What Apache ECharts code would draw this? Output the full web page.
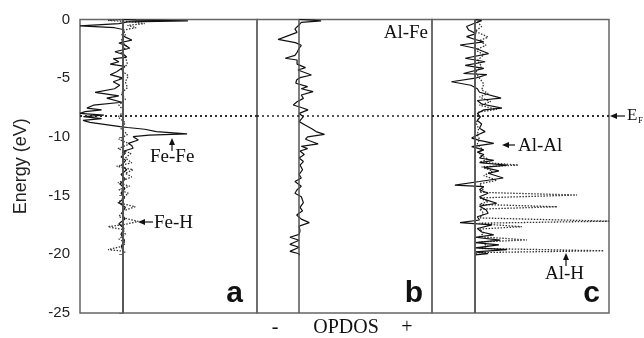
<!DOCTYPE html>
<html>
<head>
<meta charset="utf-8">
<script src="https://cdn.jsdelivr.net/npm/echarts@6/dist/echarts.min.js"></script>
<style>
  html, body { margin: 0; padding: 0; background: #fff; }
  #chart { width: 644px; height: 338px; }
</style>
</head>
<body>
<div id="chart"></div>
<script>
// Data: [energy (eV), OPDOS] pairs
const feFe = [[0,0],[-0.05,0.3],[-0.12,1.5],[-0.2,0.1],[-0.35,-0.1],[-0.55,-1.0],[-0.7,-0.2],[-0.85,0],[-1.1,0.02],[-1.3,-0.03],[-1.5,0.05],[-1.75,0.2],[-2.0,-0.1],[-2.2,0.05],[-2.45,0.15],[-2.75,-0.19],[-3.0,0.02],[-3.2,0.08],[-3.35,-0.23],[-3.6,-0.1],[-3.8,-0.3],[-4.0,0.04],[-4.2,-0.05],[-4.45,-0.15],[-4.7,-0.3],[-5.0,0],[-5.3,-0.23],[-5.6,-0.08],[-5.9,-0.2],[-6.2,-0.65],[-6.5,-0.1],[-6.7,-0.38],[-7.05,-0.03],[-7.3,-0.69],[-7.55,-0.84],[-7.7,-0.5],[-7.85,-0.88],[-8.0,-1.0],[-8.15,-0.45],[-8.28,-0.92],[-8.45,-0.5],[-8.6,-0.93],[-8.76,-0.77],[-8.95,-0.4],[-9.13,-0.07],[-9.2,0.1],[-9.35,0.5],[-9.55,0.77],[-9.75,1.48],[-9.85,0.6],[-9.98,0.23],[-10.26,0.35],[-10.55,0.12],[-10.75,0.2],[-10.97,0.23],[-11.2,0.02],[-11.4,0.05],[-11.7,-0.05],[-12.0,0.06],[-12.4,-0.04],[-12.8,0.08],[-13.2,-0.05],[-13.6,0.05],[-14.0,-0.08],[-14.4,0.04],[-14.8,-0.05],[-15.2,0.03],[-15.6,-0.1],[-16.0,0.05],[-16.5,-0.03],[-17.0,0.04],[-17.4,-0.1],[-17.8,0.02],[-18.3,-0.05],[-18.8,0.03],[-19.3,-0.04],[-19.8,0],[-20,0]];
const feH = [[0,0],[-0.08,-0.35],[-0.2,0.2],[-0.35,0.5],[-0.5,0.1],[-0.7,0.3],[-0.9,0],[-1.3,0.05],[-1.8,-0.05],[-2.3,0.08],[-2.8,-0.05],[-3.3,0.06],[-3.8,0.1],[-4.3,-0.05],[-4.8,0.12],[-5.3,0.05],[-5.8,0.1],[-6.3,-0.05],[-6.8,0.05],[-7.3,-0.1],[-7.8,0.02],[-8.3,-0.12],[-8.8,0.05],[-9.3,-0.05],[-9.8,0.1],[-10.2,-0.1],[-10.6,0.15],[-11.0,-0.12],[-11.4,0.18],[-11.8,0.05],[-12.2,0.2],[-12.5,-0.15],[-12.8,0.23],[-13.1,0.05],[-13.4,0.2],[-13.9,-0.12],[-14.2,0.15],[-14.5,-0.1],[-14.8,0.12],[-15.2,0],[-15.6,-0.12],[-15.95,0.28],[-16.3,0],[-16.8,-0.1],[-17.2,0.35],[-17.45,0.05],[-17.65,-0.35],[-17.9,0],[-18.3,0.05],[-18.7,-0.1],[-19.0,0.05],[-19.3,0],[-19.6,-0.35],[-19.75,0.05],[-20,0]];
const alFe = [[0,0],[-0.05,0.3],[-0.12,0.52],[-0.25,0.05],[-0.45,0],[-0.8,-0.1],[-1.1,-0.05],[-1.26,-0.05],[-1.5,-0.35],[-1.7,-0.5],[-1.97,-0.09],[-2.2,0.05],[-2.45,0],[-2.8,-0.05],[-3.05,-0.1],[-3.3,-0.33],[-3.45,-0.05],[-3.8,-0.05],[-4.1,0.15],[-4.3,-0.03],[-4.73,0.29],[-4.95,0.02],[-5.15,-0.06],[-5.43,-0.08],[-5.72,0.2],[-5.9,0.05],[-6.15,0.33],[-6.43,0.05],[-6.72,0.1],[-7.0,-0.05],[-7.28,-0.14],[-7.5,0.05],[-7.7,0.21],[-8.0,0],[-8.28,0.1],[-8.7,0],[-9.0,0.15],[-9.3,0.3],[-9.55,0.4],[-9.78,0.6],[-10.0,0.2],[-10.2,0.15],[-10.6,0.45],[-10.8,0.05],[-11.0,0.2],[-11.2,0.02],[-11.5,0.12],[-11.8,0],[-12.1,0.1],[-12.4,0.02],[-12.8,0.08],[-13.2,0],[-13.5,0.05],[-13.8,-0.1],[-14.2,0.05],[-14.5,-0.05],[-14.8,-0.1],[-15.1,0.05],[-15.6,0.1],[-16.0,0.02],[-16.3,0.08],[-16.65,-0.06],[-17.0,0.05],[-17.3,0.24],[-17.6,0],[-18.0,0.02],[-18.3,0],[-18.55,-0.22],[-18.8,0],[-19.15,-0.22],[-19.4,0],[-19.75,-0.22],[-19.95,0],[-20.1,0]];
const alAl = [[0,0],[-0.1,0.15],[-0.3,0],[-0.6,-0.2],[-0.9,-0.15],[-1.2,0.02],[-1.46,-0.2],[-1.7,0],[-1.9,0.2],[-2.17,-0.35],[-2.45,0],[-2.9,0.31],[-3.3,-0.23],[-3.6,0.23],[-3.9,-0.23],[-4.16,0.2],[-4.6,-0.27],[-4.7,0.27],[-5.0,0],[-5.3,-0.55],[-5.6,-0.1],[-5.9,0.05],[-6.2,0.1],[-6.7,0.6],[-6.9,0.05],[-7.2,0.15],[-7.55,0.62],[-7.7,0.2],[-8.0,0.05],[-8.3,0.12],[-8.6,0.05],[-8.9,0.15],[-9.27,0.1],[-9.55,0.23],[-9.84,0.05],[-10.1,-0.08],[-10.3,0.1],[-10.55,0.43],[-10.83,-0.08],[-11.1,0.2],[-11.3,0.05],[-11.5,0.2],[-11.8,0.1],[-12.0,0.43],[-12.2,0.1],[-12.4,0.74],[-12.6,0.2],[-12.9,0.55],[-13.1,0.3],[-13.5,0.65],[-13.8,0.1],[-14.1,-0.47],[-14.24,0.2],[-14.5,0.1],[-14.8,0.3],[-15.1,0.1],[-15.3,0.2],[-15.65,0.5],[-15.9,0.1],[-16.2,0.25],[-16.5,0.3],[-16.8,0.05],[-17.08,0.1],[-17.3,-0.35],[-17.5,0.39],[-17.8,0.05],[-18.1,0.15],[-18.35,0.43],[-18.55,0],[-18.8,0.58],[-19.0,0],[-19.2,0.55],[-19.45,0],[-19.6,0.74],[-19.8,0],[-19.95,0.3],[-20.05,0]];
const alH = [[0,0],[-0.2,0.05],[-0.6,0.15],[-1.0,0],[-1.5,0.3],[-1.8,0.1],[-2.2,0.25],[-2.6,0],[-3.0,0.2],[-3.5,0.05],[-4.0,0.15],[-4.5,0],[-5.0,0.1],[-5.5,0.2],[-6.0,0.15],[-6.3,0.3],[-6.6,0.1],[-7.0,0.36],[-7.3,0.1],[-7.65,0.5],[-7.9,0.05],[-8.3,0.1],[-8.8,0.02],[-9.3,0.08],[-9.8,0.05],[-10.2,0.1],[-10.6,0.05],[-11.0,0.15],[-11.5,0.1],[-11.9,0.3],[-12.15,0.1],[-12.4,1.0],[-12.55,0.15],[-12.9,0.4],[-13.3,0.2],[-13.7,0.5],[-14.0,0.1],[-14.4,0.2],[-14.72,0.1],[-14.95,2.36],[-15.2,0.1],[-15.5,0.3],[-15.75,0.1],[-15.95,1.9],[-16.15,0.1],[-16.5,0.2],[-16.9,0.1],[-17.18,3.1],[-17.35,0.1],[-17.5,0.5],[-17.65,1.08],[-17.85,0.1],[-18.2,0.2],[-18.5,0.1],[-18.78,1.2],[-18.95,0.1],[-19.3,0.3],[-19.5,0.1],[-19.7,2.98],[-19.85,0.1],[-20.0,0]];

const fermiLevel = -8.2;
const energyMin = -25, energyMax = 0, energyStep = 5;
const panelLetters = ['a', 'b', 'c'];

const SANS = '"Liberation Sans", Arial, sans-serif';
const SERIF = '"Liberation Serif", "Times New Roman", serif';

const chart = echarts.init(document.getElementById('chart'));

const panels = [
    { left: 80, width: 177, max: 3.1 },
    { left: 257, width: 175, max: 3.15 },
    { left: 432, width: 177, max: 3.1 }
];

// arrow from tail (x1,y1) to head (x2,y2)
function arrow(x1, y1, x2, y2) {
    const a = Math.atan2(y2 - y1, x2 - x1), L = 7, W = 3;
    const bx = x2 - L * Math.cos(a), by = y2 - L * Math.sin(a);
    return [
        { type: 'line', shape: { x1: x1, y1: y1, x2: bx, y2: by }, style: { stroke: '#111', lineWidth: 1.2 } },
        { type: 'polygon', shape: { points: [[x2, y2], [bx - W * Math.sin(a), by + W * Math.cos(a)], [bx + W * Math.sin(a), by - W * Math.cos(a)]] }, style: { fill: '#111' } }
    ];
}

function label(text, x, y, font, align) {
    return {
        type: 'text',
        style: { text: text, x: x, y: y, font: font, fill: '#111', align: align || 'center', verticalAlign: 'middle', textAlign: align || 'center', textVerticalAlign: 'middle' }
    };
}

const refLines = {
    symbol: ['none', 'none'],
    silent: true,
    label: { show: false },
    data: [
        { xAxis: 0, lineStyle: { type: 'solid', color: '#555', width: 1.5 } },
        { yAxis: fermiLevel, lineStyle: { type: [2, 3], color: '#222', width: 1.5 } }
    ]
};

function curve(data, idx, dotted) {
    return {
        type: 'line',
        xAxisIndex: idx,
        yAxisIndex: idx,
        data: data.map(p => [p[1], p[0]]),
        showSymbol: false,
        symbol: 'none',
        animation: false,
        lineStyle: dotted
            ? { color: '#333', width: 1.3, type: [1.5, 1.5] }
            : { color: '#111', width: 1.2 },
        markLine: refLines,
        z: dotted ? 2 : 3
    };
}

const option = {
    animation: false,
    backgroundColor: '#fff',
    grid: panels.map(p => ({
        left: p.left, width: p.width, top: 19.5, height: 293.5,
        show: true, borderColor: '#666', borderWidth: 1.5, backgroundColor: 'transparent'
    })),
    xAxis: panels.map((p, i) => ({
        type: 'value', gridIndex: i, min: -1, max: p.max,
        axisLine: { show: false }, axisTick: { show: false },
        axisLabel: { show: false }, splitLine: { show: false }
    })),
    yAxis: panels.map((p, i) => ({
        type: 'value', gridIndex: i,
        min: energyMin, max: energyMax, interval: energyStep,
        show: i === 0,
        name: i === 0 ? 'Energy (eV)' : '',
        nameLocation: 'middle',
        nameGap: 50,
        nameTextStyle: { fontFamily: SANS, fontSize: 18, color: '#222' },
        axisLine: { show: true, lineStyle: { color: '#666', width: 1.5 } },
        axisTick: { show: true, length: 4, lineStyle: { color: '#666' } },
        axisLabel: { fontFamily: SANS, fontSize: 15, color: '#222', margin: 10 },
        splitLine: { show: false }
    })),
    series: [
        curve(feH, 0, true),
        curve(feFe, 0, false),
        curve(alFe, 1, false),
        curve(alH, 2, true),
        curve(alAl, 2, false)
    ],
    graphic: [].concat(
        panelLetters.map((t, i) => ({
            type: 'text',
            style: { text: t, x: [243, 423, 600][i], y: 309, font: 'bold 30px ' + SANS, fill: '#111', align: 'right', verticalAlign: 'bottom', textAlign: 'right', textVerticalAlign: 'bottom' }
        })),
        [
            label('Al-Fe', 428, 33, '19px ' + SERIF, 'right'),
            label('Fe-Fe', 150, 157, '19px ' + SERIF, 'left'),
            label('Fe-H', 154, 223, '19px ' + SERIF, 'left'),
            label('Al-Al', 518, 146, '19px ' + SERIF, 'left'),
            label('Al-H', 545, 274, '19px ' + SERIF, 'left'),
            label('E', 627, 116, '17px ' + SERIF, 'left'),
            label('F', 638, 121, '9px ' + SERIF, 'left'),
            label('-', 275, 328, '20px ' + SERIF),
            label('OPDOS', 346, 328, '20px ' + SERIF),
            label('+', 407, 328, '20px ' + SERIF)
        ],
        arrow(172, 151, 172, 138),
        arrow(153, 222, 138, 222),
        arrow(515, 145, 502, 145),
        arrow(566, 266, 566, 253),
        arrow(625, 116, 610, 116)
    )
};

chart.setOption(option);
</script>
</body>
</html>
